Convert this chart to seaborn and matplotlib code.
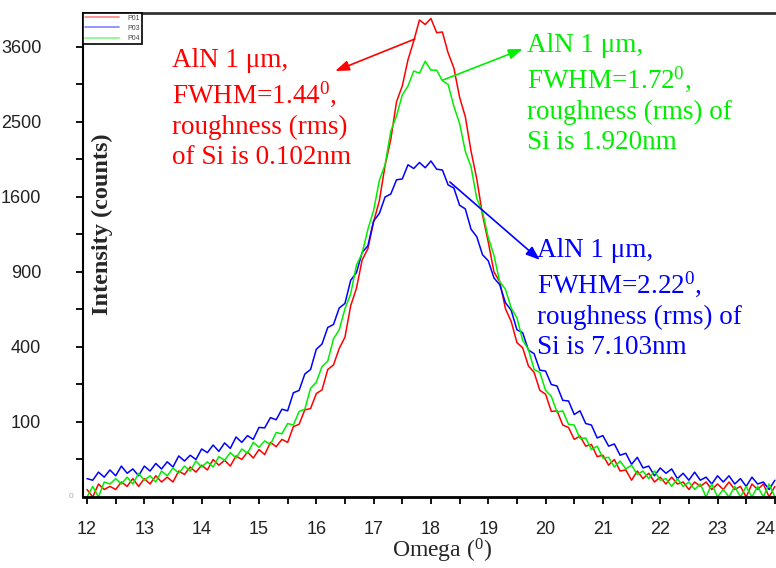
import numpy as np
import pandas as pd
import matplotlib
matplotlib.use("Agg")
import matplotlib.pyplot as plt
from matplotlib.lines import Line2D
from matplotlib.ticker import FixedLocator, MultipleLocator
import seaborn as sns

# Rocking-curve scans (omega, degrees) for three AlN samples
omega = np.round(np.linspace(12.0, 24.0, 121), 2)

p01 = [1, 0, 3, 1, 2, 1, 4, 2, 6, 2,
       6, 3, 8, 4, 7, 4, 12, 9, 16, 11,
       18, 13, 25, 18, 24, 17, 30, 25, 36, 27,
       40, 32, 53, 45, 59, 53, 88, 94, 135, 139,
       190, 204, 289, 310, 392, 454, 650, 773, 999, 1096,
       1347, 1560, 1954, 2275, 2777, 3003, 3399, 3697, 4045, 3969,
       4070, 3832, 3844, 3505, 3272, 2841, 2570, 2125, 1798, 1414,
       1156, 900, 824, 630, 548, 424, 396, 306, 276, 202,
       188, 130, 132, 92, 86, 59, 66, 46, 49, 29,
       31, 18, 25, 12, 13, 5, 12, 6, 10, 4,
       7, 3, 7, 3, 4, 1, 4, 2, 4, 1,
       3, 1, 4, 1, 2, 0, 3, 1, 3, 0,
       2]

p03 = [6, 5, 11, 7, 13, 8, 17, 10, 14, 8,
       17, 12, 20, 14, 22, 16, 30, 23, 31, 25,
       41, 35, 48, 37, 52, 42, 64, 53, 67, 59,
       86, 85, 112, 106, 137, 132, 193, 202, 269, 289,
       388, 416, 511, 529, 635, 666, 835, 894, 1063, 1122,
       1354, 1429, 1600, 1632, 1789, 1798, 1962, 1918, 1989, 1927,
       2007, 1910, 1901, 1731, 1697, 1513, 1475, 1274, 1204, 1043,
       992, 853, 801, 671, 620, 497, 480, 384, 365, 286,
       282, 225, 219, 166, 164, 121, 132, 96, 92, 62,
       67, 46, 50, 31, 34, 19, 28, 15, 17, 8,
       15, 10, 14, 6, 10, 5, 11, 5, 7, 3,
       8, 4, 8, 3, 6, 2, 7, 3, 4, 1,
       5]

p04 = [0, 2, 0, 4, 3, 6, 3, 7, 3, 10,
       5, 8, 4, 12, 8, 15, 10, 17, 12, 23,
       16, 22, 16, 29, 24, 35, 27, 41, 34, 53,
       44, 56, 49, 74, 71, 96, 92, 130, 137, 210,
       234, 303, 328, 445, 497, 630, 734, 955, 1056, 1274,
       1459, 1781, 1962, 2381, 2581, 2873, 3003, 3226, 3192, 3376,
       3238, 3238, 3080, 3025, 2714, 2480, 2125, 1936, 1584, 1444,
       1197, 1037, 824, 767, 635, 571, 437, 388, 289, 276,
       202, 180, 128, 132, 94, 92, 61, 62, 40, 46,
       27, 28, 16, 23, 14, 18, 9, 12, 6, 12,
       5, 6, 2, 6, 2, 4, 1, 3, 0, 3,
       0, 1, 0, 2, 0, 2, 0, 2, 0, 3,
       0]

samples = ["P01", "P03", "P04"]
colors = {"P01": "#ff0000", "P03": "#0000ff", "P04": "#00ee00"}
y_ticks = [100, 400, 900, 1600, 2500, 3600]
y_minor = [25, 225, 625, 1225, 2025, 3025]
x_ticks = list(range(12, 25))

df = pd.DataFrame({
    "Omega": np.tile(omega, 3),
    "Intensity": np.concatenate([p01, p03, p04]),
    "Sample": np.repeat(samples, len(omega)),
})

sns.set_style("ticks")
plt.rcParams["font.family"] = ["Liberation Serif", "DejaVu Serif"]
plt.rcParams["mathtext.fontset"] = "custom"
plt.rcParams["mathtext.rm"] = "Liberation Serif"
plt.rcParams["mathtext.it"] = "Liberation Serif:italic"

W, H = 776, 568
fig = plt.figure(figsize=(W / 100, H / 100), dpi=100)
ax = fig.add_axes([83 / W, 1 - 497 / H, 693 / W, 484 / H])

sns.lineplot(data=df, x="Omega", y="Intensity", hue="Sample",
             palette=colors, linewidth=1.1, ax=ax, legend=False)

# square-root intensity axis
ax.set_yscale("function",
              functions=(lambda v: np.sqrt(np.clip(v, 0, None)),
                         lambda s: np.square(s)))
ax.set_xlim(11.93, 24.02)
ax.set_ylim(0, 4164)

ax.set_yticks(y_ticks, labels=[str(t) for t in y_ticks],
              fontfamily="Liberation Sans", fontsize=13, color="#222222")
ax.yaxis.set_minor_locator(FixedLocator(y_minor))
ax.set_xticks(x_ticks, labels=[str(t) for t in x_ticks],
              fontfamily="Liberation Sans", fontsize=13, color="#222222")
ax.get_xticklabels()[-1].set_horizontalalignment("right")
ax.xaxis.set_minor_locator(MultipleLocator(0.5))
ax.tick_params(which="both", direction="out", length=5, width=1.3,
               color="black")
ax.tick_params(axis="y", which="major", pad=25)
ax.tick_params(axis="x", which="major", pad=12)
ax.set_xlabel("")
ax.set_ylabel("")

ax.spines["right"].set_visible(False)
ax.spines["top"].set_color("#333333")
ax.spines["top"].set_linewidth(2)
ax.spines["bottom"].set_linewidth(2)
ax.spines["left"].set_linewidth(1.5)
for s in ["bottom", "left"]:
    ax.spines[s].set_color("black")

fig.text(73 / W, 1 - 496 / H, "0", fontsize=6, color="#aaaaaa",
         ha="right", va="center", family="Liberation Sans")

fig.text(102 / W, 1 - 224 / H, "Intensity (counts)", rotation=90,
         fontsize=17.5, fontweight="bold", ha="center", va="center")
fig.text(442 / W, 1 - 551 / H, "Omega ($^0$)", fontsize=17,
         ha="center", va="center")

# legend
handles = [Line2D([], [], color=colors[s], alpha=0.45, lw=1.3) for s in samples]
leg = ax.legend(handles, samples, loc="upper left", bbox_to_anchor=(0, 1),
                borderaxespad=0, frameon=True, fancybox=False,
                edgecolor="black", framealpha=1,
                prop=dict(family="Liberation Sans", size=5),
                handlelength=5, labelspacing=0.45, borderpad=0.25,
                handletextpad=1.2)
leg.get_frame().set_linewidth(1.2)
for t in leg.get_texts():
    t.set_color("#444444")

# callouts
arrow = "-|>,head_length=0.6,head_width=0.22"
notes = [
    ("#ff0000", (17.72, 3729), (16.33, 3226), (172, 48),
     "AlN 1 μm,\nFWHM=1.44$^0$,\nroughness (rms)\nof Si is 0.102nm"),
    ("#00ee00", (18.21, 3091), (19.60, 3568), (527, 33),
     "AlN 1 μm,\nFWHM=1.72$^0$,\nroughness (rms) of\nSi is 1.920nm"),
    ("#0000ff", (18.33, 1764), (19.90, 999), (537, 238),
     "AlN 1 μm,\nFWHM=2.22$^0$,\nroughness (rms) of\nSi is 7.103nm"),
]
for col, tail, head, (tx, ty), txt in notes:
    ax.annotate("", xy=head, xytext=tail,
                arrowprops=dict(arrowstyle=arrow, color=col, lw=1.2,
                                mutation_scale=14, shrinkA=0, shrinkB=0))
    fig.text(tx / W, 1 - ty / H, txt, color=col, fontsize=19.5,
             ha="left", va="top", linespacing=1.28)

fig.savefig("out.png", dpi=100)
